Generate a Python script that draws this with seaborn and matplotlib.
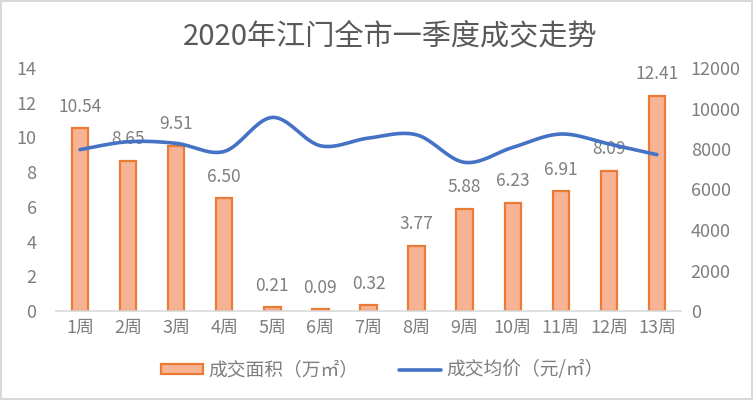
import numpy as np
import pandas as pd
import seaborn as sns
import matplotlib
matplotlib.use("Agg")
import matplotlib.pyplot as plt
from matplotlib.patches import Patch
from matplotlib.lines import Line2D

weeks = ["1周", "2周", "3周", "4周", "5周", "6周", "7周", "8周", "9周", "10周", "11周", "12周", "13周"]
area = [10.54, 8.65, 9.51, 6.50, 0.21, 0.09, 0.32, 3.77, 5.88, 6.23, 6.91, 8.09, 12.41]
price = [7970, 8360, 8280, 7880, 9560, 8160, 8540, 8700, 7340, 8080, 8740, 8250, 7720]
title = "2020年江门全市一季度成交走势"
area_label = "成交面积（万㎡）"
price_label = "成交均价（元/㎡）"

sns.set_theme(style="white")
plt.rcParams['font.family'] = ['Noto Sans CJK SC', 'DejaVu Sans']

GREY = '#7f7f7f'
BAR_FILL = '#F8B395'
BAR_EDGE = '#E87B35'
LINE = '#4472C4'

fig = plt.figure(figsize=(7.53, 4.0), dpi=100)
fig.patch.set_facecolor('white')
fig.patch.set_edgecolor('#d9d9d9')
fig.patch.set_linewidth(1.5)
ax = fig.add_axes([56/753, 1-311/400, 625/753, 243/400])

df = pd.DataFrame({"week": weeks, "area": area, "price": price})
sns.barplot(data=df, x="week", y="area", ax=ax, width=0.34, color=BAR_FILL,
            edgecolor=BAR_EDGE, linewidth=1.6, saturation=1)
ax.bar_label(ax.containers[0], labels=[f"{v:.2f}" for v in area], padding=9,
             fontsize=12.5, color=GREY)
ax.set_ylim(0, 14)
ax.set_yticks(np.arange(0, 15, 2))
ax.set_xlim(-0.5, len(weeks) - 0.5)
ax.set_xlabel("")
ax.set_ylabel("")

# Excel-style smoothed line (Catmull-Rom through the data points)
def smooth(xs, ys, n=20):
    xs = np.asarray(xs, float); ys = np.asarray(ys, float)
    px = np.concatenate([[xs[0]], xs, [xs[-1]]])
    py = np.concatenate([[ys[0]], ys, [ys[-1]]])
    ox, oy = [], []
    t = np.linspace(0, 1, n, endpoint=False)
    for i in range(1, len(px) - 2):
        p0, p1, p2, p3 = (np.array([px[j], py[j]]) for j in (i-1, i, i+1, i+2))
        c1 = p1 + (p2 - p0) / 6
        c2 = p2 - (p3 - p1) / 6
        b = ((1-t)**3)[:, None]*p1 + (3*(1-t)**2*t)[:, None]*c1 + (3*(1-t)*t**2)[:, None]*c2 + (t**3)[:, None]*p2
        ox.extend(b[:, 0]); oy.extend(b[:, 1])
    ox.append(xs[-1]); oy.append(ys[-1])
    return np.array(ox), np.array(oy)

ax2 = ax.twinx()
sx, sy = smooth(np.arange(len(weeks)), price)
sns.lineplot(x=sx, y=sy, ax=ax2, color=LINE, linewidth=2.6, sort=False)
ax2.set_ylim(0, 12000)
ax2.set_yticks(np.arange(0, 12001, 2000))
ax2.set_ylabel("")

for a in (ax, ax2):
    for s in ('top', 'left', 'right', 'bottom'):
        a.spines[s].set_visible(False)
    a.tick_params(length=0, labelsize=13, colors=GREY)
ax.spines['bottom'].set_visible(True)
ax.spines['bottom'].set_color('#d9d9d9')
ax.spines['bottom'].set_linewidth(1.2)
ax.tick_params(axis='y', pad=14)
ax.tick_params(axis='x', pad=6)
ax2.tick_params(axis='y', pad=7)
ax.grid(False); ax2.grid(False)

fig.text(390/753, 1-36/400, title, ha='center', va='center', fontsize=21, color='#595959')

handles = [Patch(facecolor=BAR_FILL, edgecolor=BAR_EDGE, linewidth=1.6),
           Line2D([0], [0], color=LINE, linewidth=2.6)]
fig.legend(handles, [area_label, price_label], loc='center',
           bbox_to_anchor=(0.508, 1-370/400), ncol=2, frameon=False,
           prop={'size': 13.5}, labelcolor=GREY,
           handlelength=2.2, handleheight=0.5,
           columnspacing=2.2, handletextpad=0.3)

fig.savefig("out.png", dpi=100, facecolor='white', edgecolor=fig.get_edgecolor())
